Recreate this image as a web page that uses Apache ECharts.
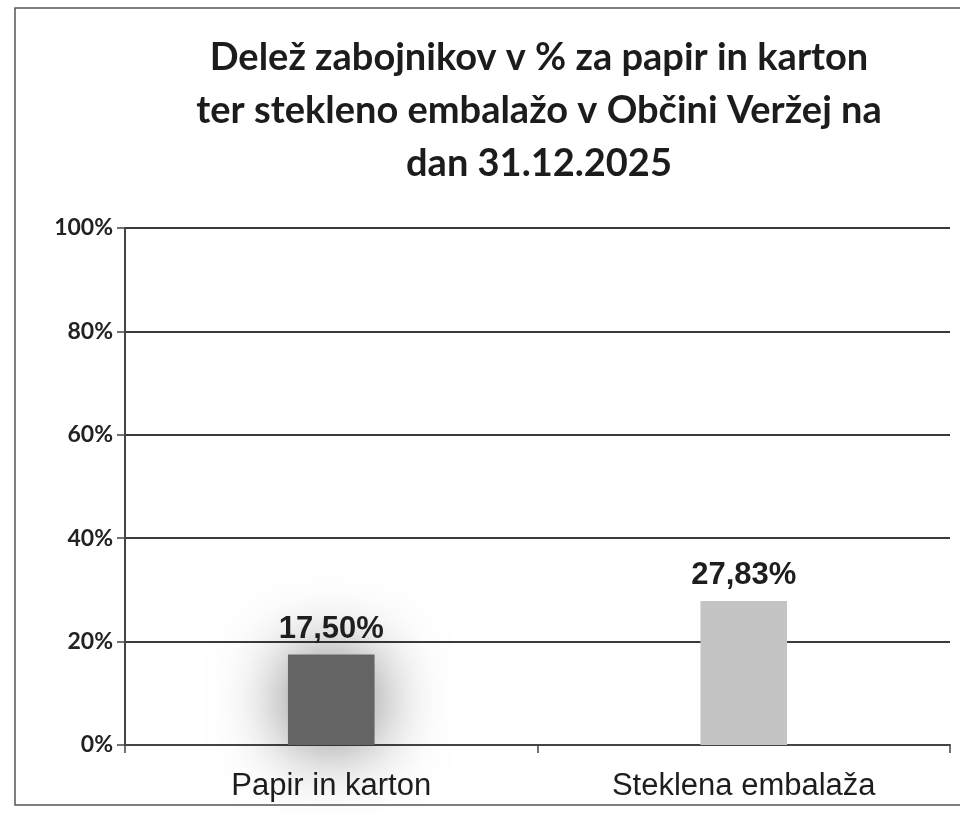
<!DOCTYPE html>
<html>
<head>
<meta charset="utf-8">
<script src="https://cdn.jsdelivr.net/npm/echarts@6/dist/echarts.min.js"></script>
<style>
  html, body { margin: 0; padding: 0; background: #fff; }
  #chart { width: 960px; height: 814px; }
</style>
</head>
<body>
<div id="chart"></div>
<script>
const categories = ['Papir in karton', 'Steklena embalaža'];
const shares = [17.50, 27.83];
const barColors = ['#646464', '#c4c4c4'];
const titleText = 'Delež zabojnikov v % za papir in karton\nter stekleno embalažo v Občini Veržej na\ndan 31.12.2025';

const chart = echarts.init(document.getElementById('chart'));

const option = {
  backgroundColor: '#fff',
  animation: false,
  title: {
    text: titleText,
    left: 534,
    top: 26,
    textAlign: 'center',
    textStyle: {
      fontFamily: 'Lato',
      fontWeight: 'bold',
      fontSize: 38,
      lineHeight: 53,
      color: '#1c1c1c'
    }
  },
  graphic: [{
    type: 'rect',
    shape: { x: 15, y: 8, width: 960, height: 797 },
    style: { fill: 'none', stroke: '#555', lineWidth: 1.5 },
    silent: true
  }],
  grid: {
    left: 125,
    right: 10,
    top: 228,
    bottom: 69
  },
  xAxis: {
    type: 'category',
    data: categories,
    axisLine: { lineStyle: { color: '#444', width: 2 } },
    axisTick: { show: true, length: 8, lineStyle: { color: '#444', width: 1.5 } },
    axisLabel: {
      fontFamily: 'Liberation Sans',
      fontSize: 31,
      color: '#1e1e1e',
      margin: 26
    }
  },
  yAxis: {
    type: 'value',
    min: 0,
    max: 100,
    interval: 20,
    axisLine: { show: true, lineStyle: { color: '#444', width: 2 } },
    axisTick: { show: true, length: 8, lineStyle: { color: '#444', width: 1.5 } },
    axisLabel: {
      formatter: '{value}%',
      fontFamily: 'Lato',
      fontWeight: 'bold',
      fontSize: 23,
      color: '#222',
      margin: 12
    },
    splitLine: { lineStyle: { color: '#3a3a3a', width: 2 } }
  },
  series: [{
    type: 'bar',
    barWidth: '21%',
    data: shares.map((v, i) => ({
      value: v,
      itemStyle: i === 0
        ? { color: barColors[i], shadowBlur: 70, shadowColor: 'rgba(0,0,0,0.55)' }
        : { color: barColors[i] }
    })),
    label: {
      show: true,
      position: 'top',
      distance: 10,
      formatter: p => p.value.toFixed(2).replace('.', ',') + '%',
      fontFamily: 'Liberation Sans',
      fontWeight: 'bold',
      fontSize: 31,
      color: '#1e1e1e'
    }
  }]
};

chart.setOption(option);
</script>
</body>
</html>
